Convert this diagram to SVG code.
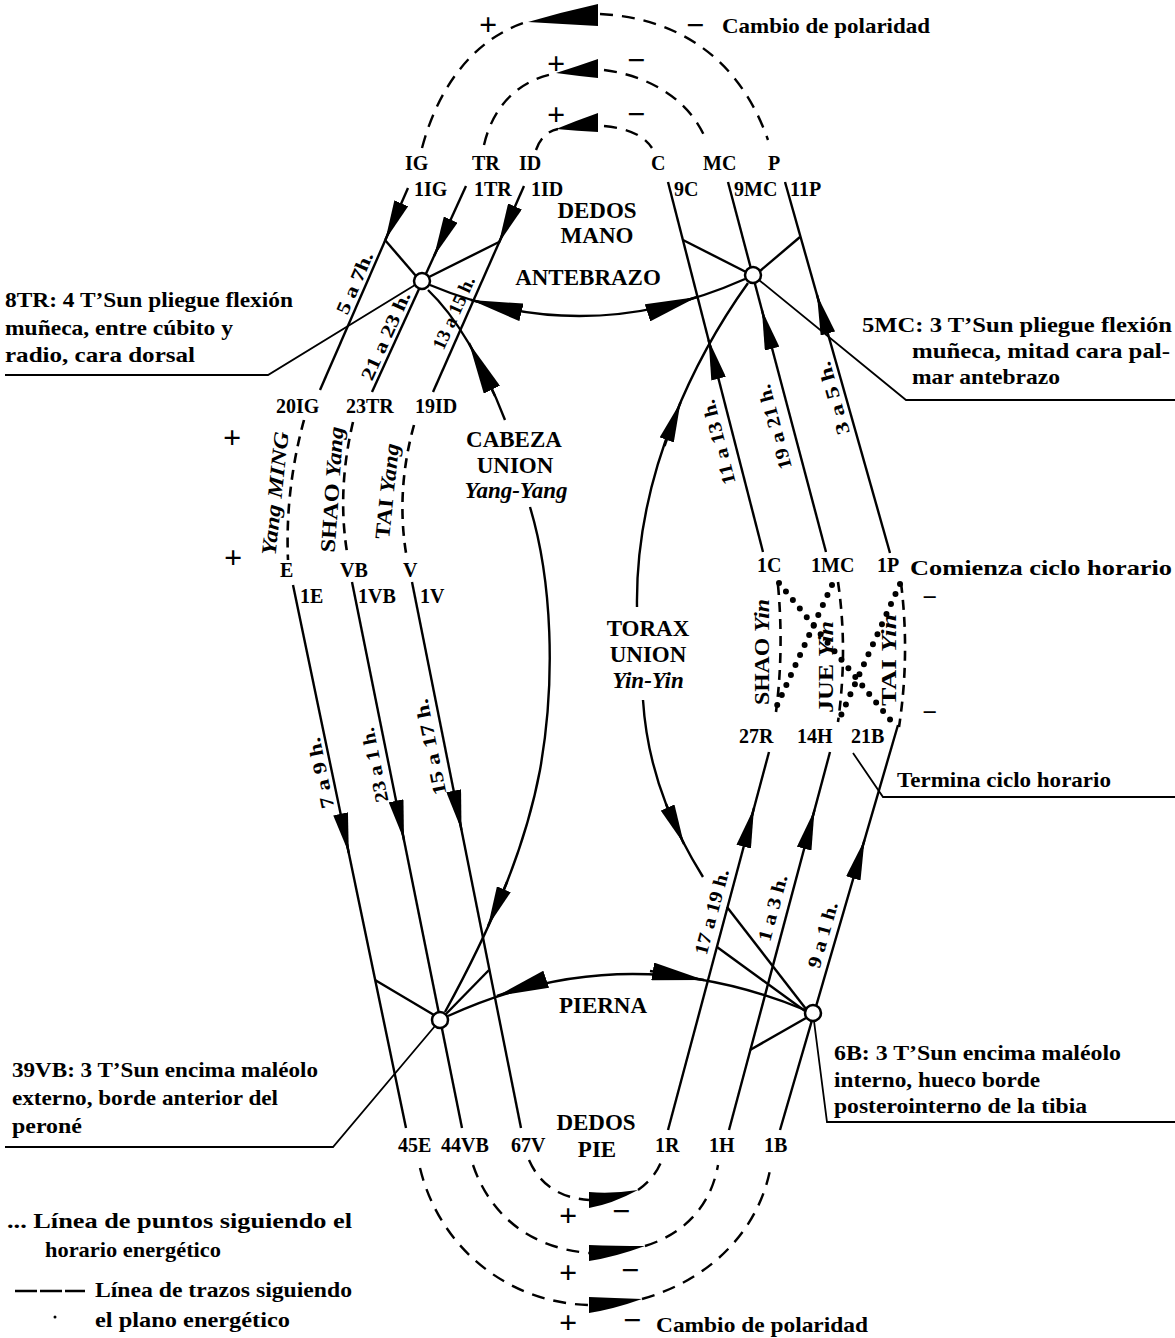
<svg xmlns="http://www.w3.org/2000/svg" width="1175" height="1338" viewBox="0 0 1175 1338">
<defs>
<style>
text{font-family:"Liberation Serif","Times New Roman",serif;font-weight:bold;fill:#000}
.lb{font-size:20px}
.tx{font-size:21px}
.big{font-size:23px;text-anchor:middle}
.hr{font-size:19px;text-anchor:middle}
.vt{font-size:21px;text-anchor:middle}
.it{font-style:italic}
.sg{font-size:32px;text-anchor:middle}
.sm{font-size:26px;text-anchor:middle}
.ln{fill:none;stroke:#000;stroke-width:2.4}
.th{fill:none;stroke:#000;stroke-width:1.8}
.ds{fill:none;stroke:#000;stroke-width:2.4;stroke-dasharray:13 9}
.dy{fill:none;stroke:#000;stroke-width:2.6;stroke-dasharray:10 7}
.dt{fill:none;stroke:#000;stroke-width:6;stroke-linecap:round;stroke-dasharray:0 11}
.nd{fill:#fff;stroke:#000;stroke-width:2.5}
.ah{fill:none;stroke:#000;stroke-width:2.4;marker-end:url(#a1)}
.ahl{fill:none;stroke:#000;stroke-width:2.4;marker-end:url(#a2)}
.wd{fill:#000;stroke:none}
</style>
<marker id="a1" viewBox="0 0 40 15" markerUnits="userSpaceOnUse" markerWidth="40" markerHeight="15" refX="40" refY="7.5" orient="auto"><path d="M0,0 L40,7.5 L0,15 Z"/></marker>
<marker id="a2" viewBox="0 0 52 18" markerUnits="userSpaceOnUse" markerWidth="52" markerHeight="18" refX="52" refY="9" orient="auto"><path d="M0,0 L52,9 L0,18 Z"/></marker>
</defs>
<rect width="1175" height="1338" fill="#fff"/>

<g id="connectors">
  <!-- top polarity arcs -->
  <path class="ds" d="M422,148 C440,80 480,35 530,21"/>
  <path class="ds" d="M600,14 C680,18 740,60 768,140"/>
  <path class="wd" d="M528,22 Q562,12 598,4 L598,26 Q562,24 528,22 Z"/>
  <path class="ds" d="M484,145 C492,110 515,80 558,73"/>
  <path class="ds" d="M604,70 C650,76 690,100 706,140"/>
  <path class="wd" d="M556,73 Q578,66 598,59 L598,78 Q578,76 556,73 Z"/>
  <path class="ds" d="M536,150 C540,138 548,131 558,129"/>
  <path class="ds" d="M604,126 C625,128 643,134 652,148"/>
  <path class="wd" d="M556,129 Q578,120 598,113 L598,132 Q578,131 556,129 Z"/>
  <!-- bottom polarity arcs -->
  <path class="ds" d="M529,1160 C540,1185 560,1198 589,1200"/>
  <path class="ds" d="M638,1190 C652,1180 660,1168 663,1156"/>
  <path class="wd" d="M589,1192 L589,1208 Q612,1204 638,1190 Q612,1194 589,1192 Z"/>
  <path class="ds" d="M473,1165 C490,1215 530,1248 589,1253"/>
  <path class="ds" d="M645,1246 C690,1232 712,1200 718,1165"/>
  <path class="wd" d="M589,1245 L589,1261 Q615,1257 645,1246 Q615,1246 589,1245 Z"/>
  <path class="ds" d="M420,1168 C440,1250 510,1303 589,1305"/>
  <path class="ds" d="M642,1299 C710,1280 760,1230 771,1165"/>
  <path class="wd" d="M589,1297 L589,1313 Q614,1309 642,1299 Q614,1298 589,1297 Z"/>

  <!-- yang dashed (head) -->
  <path class="dy" d="M304,420 Q285,490 288,560"/>
  <path class="dy" d="M353,422 Q337,490 347,552"/>
  <path class="dy" d="M414,425 Q396,490 406,553"/>
  <!-- yin dashed (chest) -->
  <path class="dy" d="M778,585 Q784,650 776,712"/>
  <path class="dy" d="M838,582 Q848,650 838,722"/>
  <path class="dy" d="M901,583 Q910,655 899,727"/>
  <!-- dotted horary -->
  <path class="dt" d="M779,583 L892,722"/>
  <path class="dt" d="M832,585 L775,710"/>
  <path class="dt" d="M900,584 L838,722"/>

  <!-- meridian lines -->
  <path class="ln" d="M408,188 L320,390"/>
  <path class="ln" d="M466,186 L372,392"/>
  <path class="ln" d="M524,186 L433,392"/>
  <path class="ln" d="M668,182 L763,552"/>
  <path class="ln" d="M728,182 L826,552"/>
  <path class="ln" d="M785,182 L890,553"/>
  <path class="ln" d="M293,585 L406,1128"/>
  <path class="ln" d="M352,582 L462,1128"/>
  <path class="ln" d="M412,582 L521,1128"/>
  <path class="ln" d="M668,1130 L769,752"/>
  <path class="ln" d="M729,1130 L830,752"/>
  <path class="ln" d="M780,1130 L898,725"/>
  <!-- arrows on meridians -->
  <path class="ah" d="M401.3,203.3 L385.3,240"/>
  <path class="ah" d="M450.7,219.6 L434.1,256"/>
  <path class="ah" d="M515,206.4 L498.8,243"/>
  <path class="ah" d="M718.6,378.8 L708.6,340"/>
  <path class="ah" d="M772.1,348.7 L761.9,310"/>
  <path class="ah" d="M827.9,333.5 L817,295"/>
  <path class="ah" d="M340.6,813.8 L348.8,853"/>
  <path class="ah" d="M396.1,800.8 L404,840"/>
  <path class="ah" d="M453.7,790.8 L461.5,830"/>
  <path class="ah" d="M743.7,846.6 L754,808"/>
  <path class="ah" d="M804.2,848.6 L814.5,810"/>
  <path class="ah" d="M853.3,878.4 L864.5,840"/>

  <!-- union arcs -->
  <path class="ln" d="M430,285 Q585,350 745,279"/>
  <path class="ahl" d="M520,312 L471,300"/>
  <path class="ahl" d="M650,312 L697,297"/>
  <path class="ln" d="M448,1016 Q625,935 805,1010"/>
  <path class="ahl" d="M544,980 L497,996"/>
  <path class="ahl" d="M650,971 L704,980"/>
  <path class="ln" d="M428,290 Q470,330 505,420"/>
  <path class="ln" d="M530,507 C552,580 556,680 540,770 C525,850 490,930 445,1012"/>
  <path class="ahl" d="M495,396 L469,343"/>
  <path class="ah" d="M507,882 L488,926"/>
  <path class="ln" d="M748,283 C700,350 635,470 637,607"/>
  <path class="ln" d="M643,700 C648,780 680,840 703,877"/>
  <path class="ah" d="M664.5,446 L680.5,402.3"/>
  <path class="ah" d="M666,804 L684,844"/>

  <!-- spokes -->
  <path class="ln" d="M416,276 L385,240"/>
  <path class="ln" d="M429,277 L499,242"/>
  <path class="ln" d="M746,272 L683,240"/>
  <path class="ln" d="M760,271 L800,237"/>
  <path class="ln" d="M434,1015 L375,980"/>
  <path class="ln" d="M446,1014 L489,970"/>
  <path class="ln" d="M806,1009 L727,907"/>
  <path class="ln" d="M805,1011 L717,947"/>
  <path class="ln" d="M806,1018 L750,1050"/>

  <!-- leaders -->
  <path class="th" d="M415,285 L268,375 L5,375"/>
  <path class="th" d="M759,280 L906,400 L1175,400"/>
  <path class="th" d="M435,1026 L333,1147 L5,1147"/>
  <path class="th" d="M814,1021 L827,1122 L1175,1122"/>
  <path class="th" d="M853,753 L883,797 L1175,797"/>
</g>

<g id="node-8TR">
  <circle class="nd" cx="422" cy="281" r="8"/>
  <text class="tx" x="5" y="307" textLength="288" lengthAdjust="spacingAndGlyphs">8TR: 4 T’Sun pliegue flexión</text>
  <text class="tx" x="5" y="335" textLength="228" lengthAdjust="spacingAndGlyphs">muñeca, entre cúbito y</text>
  <text class="tx" x="5" y="362" textLength="190" lengthAdjust="spacingAndGlyphs">radio, cara dorsal</text>
</g>
<g id="node-5MC">
  <circle class="nd" cx="753" cy="275" r="8"/>
  <text class="tx" x="862" y="332" textLength="310" lengthAdjust="spacingAndGlyphs">5MC:  3 T’Sun pliegue flexión</text>
  <text class="tx" x="912" y="358" textLength="258" lengthAdjust="spacingAndGlyphs">muñeca, mitad cara pal-</text>
  <text class="tx" x="912" y="384" textLength="148" lengthAdjust="spacingAndGlyphs">mar antebrazo</text>
</g>
<g id="node-39VB">
  <circle class="nd" cx="440" cy="1020" r="8"/>
  <text class="tx" x="12" y="1077" textLength="306" lengthAdjust="spacingAndGlyphs">39VB: 3 T’Sun encima maléolo</text>
  <text class="tx" x="12" y="1105" textLength="266" lengthAdjust="spacingAndGlyphs">externo, borde anterior del</text>
  <text class="tx" x="12" y="1133" textLength="70" lengthAdjust="spacingAndGlyphs">peroné</text>
</g>
<g id="node-6B">
  <circle class="nd" cx="813" cy="1013" r="8"/>
  <text class="tx" x="834" y="1060" textLength="287" lengthAdjust="spacingAndGlyphs">6B: 3 T’Sun encima maléolo</text>
  <text class="tx" x="834" y="1087" textLength="206" lengthAdjust="spacingAndGlyphs">interno, hueco borde</text>
  <text class="tx" x="834" y="1113" textLength="253" lengthAdjust="spacingAndGlyphs">posterointerno de la tibia</text>
</g>

<g id="polarity-top">
  <text class="sg" x="488" y="35">+</text>
  <text class="sg" x="695" y="36">−</text>
  <text class="tx" x="722" y="33" textLength="208" lengthAdjust="spacingAndGlyphs">Cambio de polaridad</text>
  <text class="sg" x="556" y="74">+</text>
  <text class="sg" x="636" y="71">−</text>
  <text class="sg" x="556" y="125">+</text>
  <text class="sg" x="636" y="125">−</text>
</g>
<g id="polarity-bottom">
  <text class="sg" x="568" y="1226">+</text>
  <text class="sg" x="621" y="1222">−</text>
  <text class="sg" x="568" y="1283">+</text>
  <text class="sg" x="630" y="1281">−</text>
  <text class="sg" x="568" y="1333">+</text>
  <text class="sg" x="632" y="1331">−</text>
  <text class="tx" x="656" y="1332" textLength="212" lengthAdjust="spacingAndGlyphs">Cambio de  polaridad</text>
</g>

<g id="hand-labels">
  <text class="lb" x="405" y="170">IG</text>
  <text class="lb" x="472" y="170">TR</text>
  <text class="lb" x="519" y="170">ID</text>
  <text class="lb" x="651" y="170">C</text>
  <text class="lb" x="703" y="170">MC</text>
  <text class="lb" x="768" y="170">P</text>
  <text class="lb" x="414" y="196">1IG</text>
  <text class="lb" x="474" y="196">1TR</text>
  <text class="lb" x="531" y="196">1ID</text>
  <text class="lb" x="674" y="196">9C</text>
  <text class="lb" x="734" y="196">9MC</text>
  <text class="lb" x="790" y="196">11P</text>
  <text class="big" x="597" y="218">DEDOS</text>
  <text class="big" x="597" y="243">MANO</text>
  <text class="big" x="588" y="285">ANTEBRAZO</text>
</g>

<g id="head-labels">
  <text class="lb" x="276" y="413">20IG</text>
  <text class="lb" x="346" y="413">23TR</text>
  <text class="lb" x="415" y="413">19ID</text>
  <text class="lb" x="280" y="577">E</text>
  <text class="lb" x="340" y="577">VB</text>
  <text class="lb" x="403" y="577">V</text>
  <text class="lb" x="300" y="603">1E</text>
  <text class="lb" x="358" y="603">1VB</text>
  <text class="lb" x="420" y="603">1V</text>
  <text class="sg" x="232" y="448">+</text>
  <text class="sg" x="233" y="568">+</text>
  <text class="vt it" transform="translate(282,494) rotate(-84)" textLength="124" lengthAdjust="spacingAndGlyphs">Yang MING</text>
  <text class="vt" transform="translate(339,490) rotate(-86)" textLength="126" lengthAdjust="spacingAndGlyphs">SHAO <tspan class="it">Yang</tspan></text>
  <text class="vt" transform="translate(394,492) rotate(-84)" textLength="96" lengthAdjust="spacingAndGlyphs">TAI <tspan class="it">Yang</tspan></text>
  <text class="big" x="514" y="447">CABEZA</text>
  <text class="big" x="515" y="473">UNION</text>
  <text class="big it" x="516" y="498">Yang-Yang</text>
</g>

<g id="chest-labels">
  <text class="big" x="648" y="636">TORAX</text>
  <text class="big" x="648" y="662">UNION</text>
  <text class="big it" x="648" y="688">Yin-Yin</text>
  <text class="lb" x="757" y="572">1C</text>
  <text class="lb" x="811" y="572">1MC</text>
  <text class="lb" x="877" y="572">1P</text>
  <text class="tx" x="910" y="575" textLength="262" lengthAdjust="spacingAndGlyphs">Comienza ciclo horario</text>
  <text class="sm" x="930" y="606">−</text>
  <text class="sm" x="930" y="721">−</text>
  <text class="vt" transform="translate(769,652) rotate(-90)" textLength="106" lengthAdjust="spacingAndGlyphs">SHAO <tspan class="it">Yin</tspan></text>
  <text class="vt" transform="translate(833,667) rotate(-90)" textLength="92" lengthAdjust="spacingAndGlyphs">JUE <tspan class="it">Yin</tspan></text>
  <text class="vt" transform="translate(896,660) rotate(-90)" textLength="92" lengthAdjust="spacingAndGlyphs">TAI <tspan class="it">Yin</tspan></text>
  <text class="lb" x="739" y="743">27R</text>
  <text class="lb" x="797" y="743">14H</text>
  <text class="lb" x="851" y="743">21B</text>
  <text class="tx" x="897" y="787" textLength="214" lengthAdjust="spacingAndGlyphs">Termina ciclo horario</text>
</g>

<g id="foot-labels">
  <text class="big" x="603" y="1013">PIERNA</text>
  <text class="lb" x="398" y="1152">45E</text>
  <text class="lb" x="441" y="1152">44VB</text>
  <text class="lb" x="511" y="1152">67V</text>
  <text class="big" x="596" y="1130">DEDOS</text>
  <text class="big" x="597" y="1157">PIE</text>
  <text class="lb" x="655" y="1152">1R</text>
  <text class="lb" x="709" y="1152">1H</text>
  <text class="lb" x="764" y="1152">1B</text>
</g>

<g id="hour-labels">
  <text class="hr" transform="translate(355,283) rotate(-66.5)" y="6" textLength="66" lengthAdjust="spacingAndGlyphs">5 a 7h.</text>
  <text class="hr" transform="translate(386,336) rotate(-65.8)" y="6" textLength="95" lengthAdjust="spacingAndGlyphs">21 a 23 h.</text>
  <text class="hr" transform="translate(454,313) rotate(-66)" y="6" textLength="78" lengthAdjust="spacingAndGlyphs">13 a 15 h.</text>
  <text class="hr" transform="translate(719,442) rotate(-104.4)" y="6" textLength="87" lengthAdjust="spacingAndGlyphs">11 a 13 h.</text>
  <text class="hr" transform="translate(775,427) rotate(-104.8)" y="6" textLength="87" lengthAdjust="spacingAndGlyphs">19 a 21 h.</text>
  <text class="hr" transform="translate(834,398) rotate(-105.8)" y="6" textLength="75" lengthAdjust="spacingAndGlyphs">3 a 5 h.</text>
  <text class="hr" transform="translate(321,773) rotate(-101.8)" y="6" textLength="72" lengthAdjust="spacingAndGlyphs">7 a 9 h.</text>
  <text class="hr" transform="translate(375,765) rotate(-101.4)" y="6" textLength="76" lengthAdjust="spacingAndGlyphs">23 a 1 h.</text>
  <text class="hr" transform="translate(431,747) rotate(-101.3)" y="6" textLength="98" lengthAdjust="spacingAndGlyphs">15 a 17 h.</text>
  <text class="hr" transform="translate(712,912) rotate(-75)" y="6" textLength="88" lengthAdjust="spacingAndGlyphs">17 a 19 h.</text>
  <text class="hr" transform="translate(773,908) rotate(-75)" y="6" textLength="68" lengthAdjust="spacingAndGlyphs">1 a 3 h.</text>
  <text class="hr" transform="translate(823,935) rotate(-74)" y="6" textLength="68" lengthAdjust="spacingAndGlyphs">9 a 1 h.</text>
</g>

<g id="legend">
  <text class="tx" x="7" y="1228" textLength="345" lengthAdjust="spacingAndGlyphs">... Línea de puntos siguiendo el</text>
  <text class="tx" x="45" y="1257" textLength="176" lengthAdjust="spacingAndGlyphs">horario energético</text>
  <path d="M15,1291 L85,1291" fill="none" stroke="#000" stroke-width="2.4" stroke-dasharray="22 3"/>
  <text class="tx" x="95" y="1297" textLength="257" lengthAdjust="spacingAndGlyphs">Línea de trazos siguiendo</text>
  <circle cx="55" cy="1317" r="1.5" fill="#000"/>
  <text class="tx" x="95" y="1327" textLength="195" lengthAdjust="spacingAndGlyphs">el plano energético</text>
</g>
</svg>
